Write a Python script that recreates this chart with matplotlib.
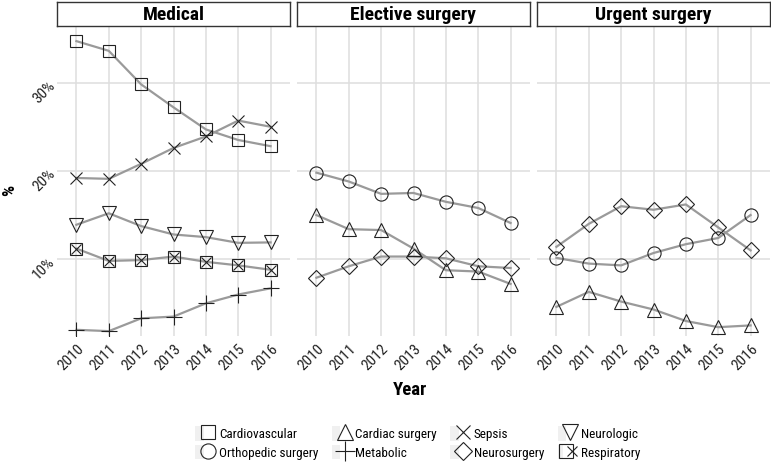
import matplotlib.pyplot as plt
from matplotlib.lines import Line2D
from matplotlib.patches import Rectangle
from matplotlib.legend_handler import HandlerTuple

plt.rcParams['font.family'] = ['Roboto Condensed', 'DejaVu Sans']

years = [2010, 2011, 2012, 2013, 2014, 2015, 2016]
panels = ["Medical", "Elective surgery", "Urgent surgery"]

# Medical (%)
med_cardiovascular = [34.7, 33.6, 29.8, 27.2, 24.7, 23.5, 22.8]
med_sepsis = [19.2, 19.1, 20.8, 22.6, 23.9, 25.7, 25.0]
med_neurologic = [13.9, 15.2, 13.75, 12.8, 12.5, 11.85, 11.9]
med_respiratory = [11.2, 9.8, 9.9, 10.3, 9.7, 9.3, 8.8]
med_metabolic = [2.0, 1.85, 3.3, 3.5, 5.0, 6.0, 6.7]

# Elective surgery (%)
ele_orthopedic = [19.8, 18.8, 17.4, 17.5, 16.5, 15.8, 14.1]
ele_cardiac = [15.0, 13.4, 13.3, 11.2, 8.75, 8.6, 7.2]
ele_neurosurgery = [7.9, 9.2, 10.3, 10.3, 10.1, 9.2, 9.0]

# Urgent surgery (%)
urg_neurosurgery = [11.4, 14.0, 16.0, 15.6, 16.2, 13.6, 11.0]
urg_orthopedic = [10.15, 9.5, 9.3, 10.7, 11.7, 12.4, 15.0]
urg_cardiac = [4.6, 6.3, 5.2, 4.3, 3.0, 2.3, 2.5]

panel_series = [
    [("Cardiovascular", med_cardiovascular), ("Sepsis", med_sepsis),
     ("Neurologic", med_neurologic), ("Respiratory", med_respiratory),
     ("Metabolic", med_metabolic)],
    [("Orthopedic surgery", ele_orthopedic), ("Cardiac surgery", ele_cardiac),
     ("Neurosurgery", ele_neurosurgery)],
    [("Neurosurgery", urg_neurosurgery), ("Orthopedic surgery", urg_orthopedic),
     ("Cardiac surgery", urg_cardiac)],
]

# marker style per group
styles = {
    "Cardiovascular": dict(marker='s', ms=9),
    "Orthopedic surgery": dict(marker='o', ms=9.5),
    "Cardiac surgery": dict(marker='^', ms=10.5),
    "Metabolic": dict(marker='+', ms=12),
    "Sepsis": dict(marker='x', ms=9),
    "Neurosurgery": dict(marker='D', ms=8),
    "Neurologic": dict(marker='v', ms=10.5),
    "Respiratory": dict(marker='s', ms=9),
}
legend_order = ["Cardiovascular", "Orthopedic surgery", "Cardiac surgery", "Metabolic",
                "Sepsis", "Neurosurgery", "Neurologic", "Respiratory"]

line_col = '#9a9a9a'
grid_col = '#dedede'

W, H = 771, 465
fig = plt.figure(figsize=(W / 100, H / 100), dpi=100)

lefts = [57, 297, 537]
pw = 233
top, bottom = 27, 336


def draw_marker(ax, x, y, name):
    st = styles[name]
    ax.plot(x, y, linestyle='none', marker=st['marker'], ms=st['ms'],
            mfc='none', mec='#222222', mew=0.8, zorder=3)
    if name == "Respiratory":
        ax.plot(x, y, linestyle='none', marker='x', ms=st['ms'] * 0.75,
                mec='#222222', mew=0.8, zorder=3)


for i, title in enumerate(panels):
    ax = fig.add_axes([lefts[i] / W, 1 - bottom / H, pw / W, (bottom - top) / H])
    for name, vals in panel_series[i]:
        ax.plot(years, vals, color=line_col, lw=1.6, zorder=2)
        draw_marker(ax, years, vals, name)
    ax.set_xlim(2009.4, 2016.6)
    ax.set_ylim(1.3, 36.3)
    ax.set_xticks(years)
    ax.set_xticklabels([str(y) for y in years], rotation=45, ha='right',
                       rotation_mode='anchor', fontsize=11, color='#222222')
    ax.set_yticks([10, 20, 30])
    if i == 0:
        ax.set_yticklabels(['10%', '20%', '30%'], rotation=45, ha='right',
                           rotation_mode='anchor', fontsize=11, color='#222222')
    else:
        ax.set_yticklabels([])
    ax.tick_params(length=0, pad=4)
    ax.grid(True, color=grid_col, lw=1.1)
    ax.set_axisbelow(True)
    for s in ax.spines.values():
        s.set_visible(False)

    # strip header
    sax = fig.add_axes([lefts[i] / W, 1 - 26 / H, pw / W, 24 / H])
    sax.set_xticks([])
    sax.set_yticks([])
    for s in sax.spines.values():
        s.set_color('#333333')
        s.set_linewidth(1.0)
    sax.text(0.5, 0.47, title, ha='center', va='center', fontsize=14,
             fontweight='bold', transform=sax.transAxes)

fig.text(10 / W, 1 - 190 / H, '%', rotation=90, ha='center', va='center',
         fontsize=12.5, fontweight='bold')
fig.text(410 / W, 1 - 390 / H, 'Year', ha='center', va='center',
         fontsize=13.5, fontweight='bold')

# legend with grey key backgrounds
handles = []
for name in legend_order:
    st = styles[name]
    bg = Rectangle((0, 0), 1, 1, facecolor='#f0f0f0', edgecolor='none')
    mk = Line2D([], [], linestyle='none', marker=st['marker'], ms=st['ms'] * 1.15,
                mfc='none', mec='#222222', mew=0.8)
    parts = [bg, mk]
    if name == "Respiratory":
        parts.append(Line2D([], [], linestyle='none', marker='x', ms=st['ms'] * 0.85,
                            mec='#222222', mew=0.8))
    handles.append(tuple(parts))

leg = fig.legend(handles, legend_order, ncol=4, loc='center',
                 bbox_to_anchor=(418 / W, 1 - 443 / H), frameon=False,
                 fontsize=9.5, handler_map={tuple: HandlerTuple(ndivide=None, pad=0)},
                 handlelength=1.3, handleheight=1.3, handletextpad=0.5,
                 columnspacing=1.0, labelspacing=0.3)

fig.savefig('out.png', dpi=100)
